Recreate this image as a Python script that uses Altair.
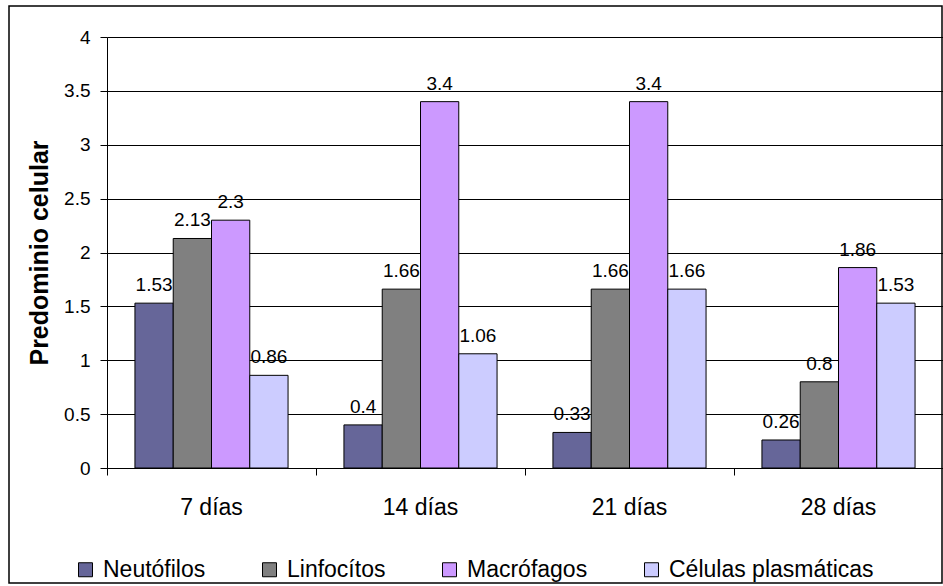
import altair as alt
import pandas as pd

days = ["7 días", "14 días", "21 días", "28 días"]
series = ["Neutófilos", "Linfocítos", "Macrófagos", "Células plasmáticas"]
colors = ["#666699", "#808080", "#CC99FF", "#CCCCFF"]
neutofilos = [1.53, 0.4, 0.33, 0.26]
linfocitos = [2.13, 1.66, 1.66, 0.8]
macrofagos = [2.3, 3.4, 3.4, 1.86]
plasmaticas = [0.86, 1.06, 1.66, 1.53]
y_ticks = [0, 0.5, 1, 1.5, 2, 2.5, 3, 3.5, 4]

rows = []
for name, vals in zip(series, [neutofilos, linfocitos, macrofagos, plasmaticas]):
    for d, v in zip(days, vals):
        rows.append({"dia": d, "celula": name, "valor": v})
df = pd.DataFrame(rows)

FONT = "Liberation Sans"

x_enc = alt.X(
    "dia:N", sort=days, title=None,
    scale=alt.Scale(paddingInner=0, paddingOuter=0),
    axis=alt.Axis(
        bandPosition=0, labelAngle=0, labelFontSize=23,
        labelColor="black", labelPadding=21, tickSize=7, tickColor="black",
        domainColor="black", grid=False, labelFont=FONT,
    ),
)
xo_enc = alt.XOffset("celula:N", sort=series,
                     scale=alt.Scale(paddingInner=0, paddingOuter=0.73))
y_enc = alt.Y(
    "valor:Q", title="Predominio celular",
    scale=alt.Scale(domain=[0, 4], nice=False),
    axis=alt.Axis(
        values=y_ticks, format=".1~f", labelFontSize=19, labelColor="black",
        labelPadding=10, tickSize=7, tickColor="black", domainColor="black",
        gridColor="black", gridWidth=1, titleFontSize=25, titleFontWeight="bold",
        titleColor="black", titlePadding=11, labelFont=FONT, titleFont=FONT,
    ),
)

base = alt.Chart(df)

bars = base.mark_bar(stroke="black", strokeWidth=1).encode(
    x=x_enc, xOffset=xo_enc, y=y_enc,
    color=alt.Color(
        "celula:N", sort=series,
        scale=alt.Scale(domain=series, range=colors),
        legend=alt.Legend(
            title=None, orient="none", legendX=-33, legendY=521,
            direction="horizontal", columns=4, symbolType="square",
            symbolSize=196, symbolStrokeColor="black", symbolStrokeWidth=1,
            symbolOpacity=1, labelFontSize=23, labelOffset=6, columnPadding=52,
            labelColor="black", labelFont=FONT, labelLimit=400,
        ),
    ),
)

labels = base.mark_text(
    dy=-12, baseline="alphabetic", align="center", fontSize=19,
    color="black", font=FONT,
).encode(
    x=x_enc, xOffset=xo_enc, y=y_enc,
    text=alt.Text("valor:Q", format=".2~f"),
)

frame = alt.Chart(pd.DataFrame({"a": [0]})).mark_rect(
    fill="transparent", stroke="black", strokeWidth=1.5
).encode(
    x=alt.value(-98), x2=alt.value(835), y=alt.value(-31), y2=alt.value(546)
)

chart = alt.layer(bars, labels, frame).properties(
    width=836, height=431,
    autosize=alt.AutoSizeParams(type="none"),
    padding={"left": 107, "top": 37, "right": 0, "bottom": 118},
    background="white",
).configure_view(stroke=None).configure(font=FONT)

chart.save("out.html", embed_options={"renderer": "svg", "actions": False})
